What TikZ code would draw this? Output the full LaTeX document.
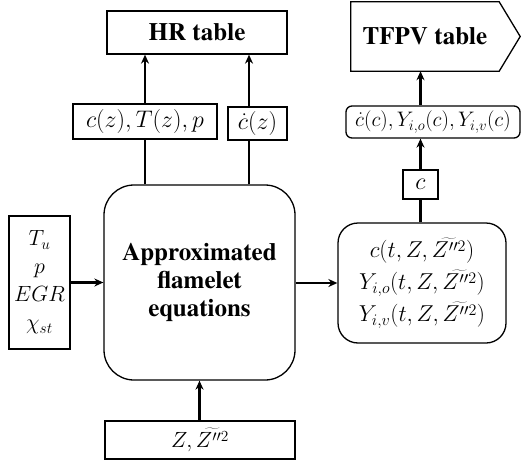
\RequirePackage{fix-cm}
\documentclass[tikz,border=0pt]{standalone}
\usepackage{fontspec}
\setmainfont{texgyretermes}[Extension=.otf, UprightFont=*-regular, BoldFont=*-bold,
  ItalicFont=*-italic, BoldItalicFont=*-bolditalic]
\usetikzlibrary{arrows.meta}

\begin{document}
\begin{tikzpicture}[x=1pt,y=-1pt,
  box/.style={draw, line width=1.3pt, inner sep=0pt, align=center},
  lbl/.style={font=\bfseries\fontsize{25}{28}\selectfont},
  mth/.style={font=\fontsize{24}{29}\selectfont},
  arr/.style={line width=2.4pt, -{Stealth[length=9pt,width=8pt]}},
  ln/.style={line width=2.4pt}]
\useasboundingbox (0,0) rectangle (522,463);

% output tables
\node[box, lbl, minimum width=180pt, minimum height=43pt] (hr) at (197,32.5) {HR table};
\node[lbl, inner sep=0pt, minimum width=148pt, minimum height=69pt] (tfpv) at (425,36.5) {TFPV table};
\draw[line width=1.3pt, line join=miter] (tfpv.north west) -- (tfpv.north east) -- ([xshift=21pt]tfpv.east)
  -- (tfpv.south east) -- (tfpv.south west) -- cycle;

% intermediate quantities
\node[box, mth, minimum width=144pt, minimum height=35pt] (czb) at (145,121.5) {$c(z),T(z),p$};
\node[box, mth, minimum width=59pt, minimum height=33pt] (cdz) at (257.5,123.5) {$\dot c(z)$};
\node[box, font=\fontsize{21}{24}\selectfont, rounded corners=6pt, minimum width=174pt, minimum height=32pt]
  (tout) at (433,122) {$\dot c(c),Y_{i,o}(c),Y_{i,v}(c)$};
\node[box, mth, minimum width=35pt, minimum height=29pt] (cbox) at (420.5,184.5) {$c$};

% solver and its inputs
\node[box, lbl, rounded corners=30pt, minimum width=191pt, minimum height=195pt] (main) at (199.5,282.5)
  {Approximated\\flamelet\\equations};
\node[box, font=\fontsize{22}{28}\selectfont, minimum width=61pt, minimum height=133pt] (inp) at (39.5,282.5)
  {$T_u$\\$p$\\$EGR$\\$\chi_{st}$};
\node[box, font=\fontsize{23}{32}\selectfont, rounded corners=20pt, minimum width=168pt, minimum height=120pt]
  (sol) at (422,283)
  {$c(t,Z,\widetilde{Z''^2})$\\$Y_{i,o}(t,Z,\widetilde{Z''^2})$\\$Y_{i,v}(t,Z,\widetilde{Z''^2})$};
\node[box, font=\fontsize{22}{28}\selectfont, minimum width=190pt, minimum height=38pt] (zin) at (200,440)
  {$Z,\widetilde{Z''^2}$};

% connectors
\draw[arr] (inp.east) -- (main.west);
\draw[arr] (main.east |- sol.west) -- (sol.west);
\draw[arr] (zin.north -| main.south) -- (main.south);
\draw[ln] (czb.south |- main.north) -- (czb.south);
\draw[arr] (czb.north) -- (czb.north |- hr.south);
\draw[ln] ([xshift=-8.5pt]cdz.south |- main.north) -- ([xshift=-8.5pt]cdz.south);
\draw[arr] ([xshift=-8.5pt]cdz.north) -- ([xshift=-8.5pt]cdz.north |- hr.south);
\draw[ln] (cbox.south |- sol.north) -- (cbox.south);
\draw[arr] (cbox.north) -- (cbox.north |- tout.south);
\draw[arr] (cbox.north |- tout.north) -- (cbox.north |- tfpv.south);
\end{tikzpicture}
\end{document}
